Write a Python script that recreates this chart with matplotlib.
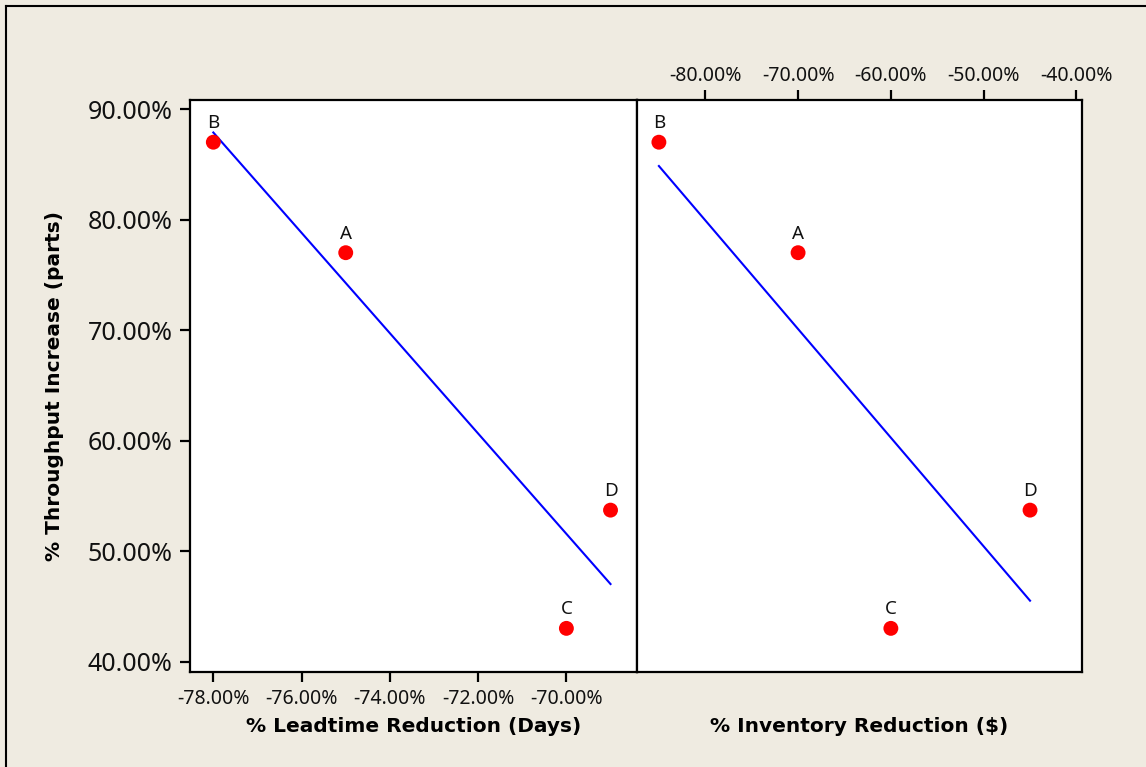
import numpy as np
import matplotlib
matplotlib.use("Agg")
import matplotlib.pyplot as plt
from matplotlib.lines import Line2D

plt.rcParams['font.family'] = ['Noto Sans', 'DejaVu Sans']

# Data
labels = ["A", "B", "C", "D"]
throughput = [77.0, 87.0, 43.0, 53.7]          # % Throughput Increase (parts)
leadtime = [-75.0, -78.0, -70.0, -69.0]        # % Leadtime Reduction (Days)
inventory = [-70.0, -85.0, -60.0, -45.0]       # % Inventory Reduction ($)

y_ticks = [40, 50, 60, 70, 80, 90]
lead_ticks = [-78, -76, -74, -72, -70]
inv_ticks = [-80, -70, -60, -50, -40]

bg = "#EFEBE1"
W, H = 1146, 767
fig = plt.figure(figsize=(W / 100, H / 100), dpi=100, facecolor=bg)

# border lines (left and top)
fig.add_artist(Line2D([6 / W, 6 / W], [0, 1 - 6 / H], transform=fig.transFigure, color="black", lw=1.5))
fig.add_artist(Line2D([6 / W, 1], [1 - 6 / H, 1 - 6 / H], transform=fig.transFigure, color="black", lw=1.5))

x0, xm, x1 = 189.5 / W, 637 / W, 1082 / W
yb, yt = 1 - 672 / H, 1 - 100 / H
ax1 = fig.add_axes([x0, yb, xm - x0, yt - yb])
ax2 = fig.add_axes([xm, yb, x1 - xm, yt - yb])

ylim = (39.05, 90.82)


def draw(ax, xs, xlim):
    ax.set_facecolor("white")
    ax.scatter(xs, throughput, s=115, color="#FF0000", zorder=3, edgecolors="none")
    m, b = np.polyfit(xs, throughput, 1)
    xr = np.array([min(xs), max(xs)])
    ax.plot(xr, m * xr + b, color="#0000FF", lw=1.5, zorder=2)
    for lab, xv, yv in zip(labels, xs, throughput):
        ax.annotate(lab, (xv, yv), xytext=(0, 10), textcoords="offset points",
                    ha="center", va="baseline", fontsize=13.5, color="#111111")
    ax.set_xlim(*xlim)
    ax.set_ylim(*ylim)
    for s in ax.spines.values():
        s.set_linewidth(1.6)
        s.set_color("black")


draw(ax1, leadtime, (-78.54, -68.40))
draw(ax2, inventory, (-87.36, -39.40))

ax1.set_yticks(y_ticks)
ax1.set_yticklabels([f"{v:.2f}%" for v in y_ticks], fontsize=18, color="#111111")
ax1.set_xticks(lead_ticks)
ax1.set_xticklabels([f"{v:.2f}%" for v in lead_ticks], fontsize=14, color="#111111")
ax1.tick_params(axis="both", direction="out", length=7, width=1.6)
ax1.tick_params(axis="y", pad=5)
ax1.tick_params(axis="x", pad=5)

ax2.set_yticks([])
ax2.xaxis.tick_top()
ax2.set_xticks(inv_ticks)
ax2.set_xticklabels([f"{v:.2f}%" for v in inv_ticks], fontsize=14, color="#111111")
ax2.tick_params(axis="x", direction="out", length=7, width=1.6, pad=3)

lab_font = dict(fontsize=14.5, fontweight="bold", family=["DejaVu Sans"])
ax1.set_xlabel("% Leadtime Reduction (Days)", **lab_font)
ax1.xaxis.set_label_coords(0.5, (672 - 727) / 572)
ax1.xaxis.label.set_va("center")
ax2.xaxis.set_label_position("bottom")
ax2.set_xlabel("% Inventory Reduction ($)", **lab_font)
ax2.xaxis.set_label_coords(0.5, (672 - 727) / 572)
ax2.xaxis.label.set_va("center")

ax1.set_ylabel("% Throughput Increase (parts)", **lab_font)
ax1.yaxis.set_label_coords((55 - 189.5) / 447.5, 0.5)
ax1.yaxis.label.set_va("center")

fig.savefig("out.png", dpi=100, facecolor=bg)
